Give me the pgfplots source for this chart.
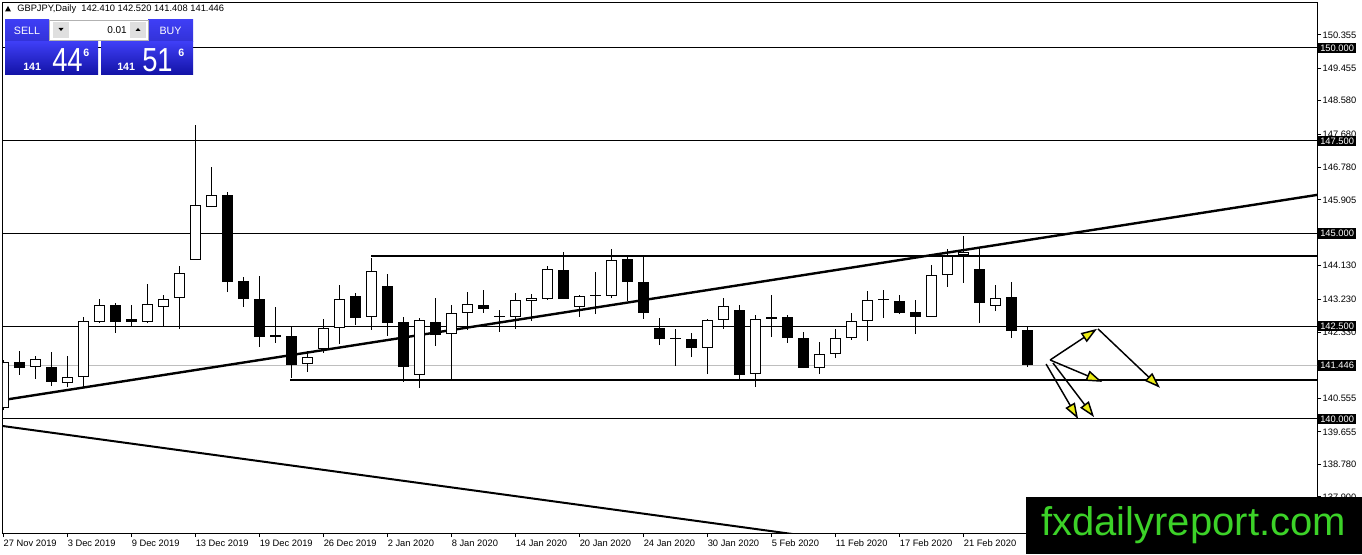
\documentclass[border=0pt]{standalone}
\usepackage{fontspec}
\setmainfont{Liberation Sans}
\usepackage{graphicx}
\usepackage{pgfplots}
\pgfplotsset{compat=1.18}
\usepackage{pgfplotstable}
\usetikzlibrary{arrows.meta}

\definecolor{panelTop}{RGB}{62,62,245}
\definecolor{panelBot}{RGB}{18,18,165}
\definecolor{btnBlue}{RGB}{50,50,215}
\definecolor{arrowyellow}{RGB}{235,235,20}
\definecolor{wmgreen}{RGB}{60,210,40}
\definecolor{pricegray}{RGB}{190,190,190}

\pgfplotstableread{
i o h l c
0 140.30 141.59 140.24 141.54
1 141.54 141.83 141.19 141.37
2 141.40 141.70 141.08 141.62
3 141.40 141.81 140.89 141.00
4 140.97 141.70 140.86 141.13
5 141.13 142.75 140.86 142.64
6 142.61 143.23 142.59 143.07
7 143.07 143.13 142.32 142.61
8 142.70 143.07 142.51 142.61
9 142.61 143.64 142.59 143.10
10 143.02 143.34 142.51 143.23
11 143.26 144.12 142.43 143.94
12 144.29 147.92 144.29 145.77
13 145.71 146.79 145.71 146.04
14 146.04 146.12 143.42 143.69
15 143.72 143.83 143.02 143.23
16 143.23 143.85 141.94 142.21
17 142.26 143.02 142.05 142.21
18 142.24 142.51 141.11 141.46
19 141.48 141.83 141.27 141.67
20 141.89 142.70 141.78 142.45
21 142.45 143.61 142.02 143.23
22 143.32 143.40 142.53 142.72
23 142.75 144.34 142.40 143.99
24 143.59 143.91 142.24 142.59
25 142.61 142.75 141.00 141.40
26 141.19 142.72 140.84 142.67
27 142.61 143.26 141.97 142.26
28 142.29 143.07 141.08 142.86
29 142.86 143.42 142.40 143.10
30 143.07 143.48 142.86 142.97
31 142.78 142.94 142.35 142.75
32 142.75 143.40 142.43 143.21
33 143.18 143.37 142.64 143.26
34 143.23 144.12 143.21 144.04
35 144.02 144.50 143.23 143.23
36 143.02 143.34 142.75 143.32
37 143.34 143.96 142.83 143.32
38 143.32 144.58 143.26 144.29
39 144.31 144.37 143.18 143.69
40 143.69 144.37 142.70 142.86
41 142.45 142.72 141.99 142.16
42 142.17 142.43 141.43 142.16
43 142.16 142.32 141.67 141.91
44 141.91 142.70 141.21 142.67
45 142.67 143.26 142.43 143.05
46 142.94 143.07 141.08 141.19
47 141.21 142.80 140.86 142.70
48 142.70 143.34 142.21 142.75
49 142.75 142.80 142.05 142.18
50 142.18 142.35 141.37 141.37
51 141.37 142.08 141.21 141.75
52 141.75 142.43 141.64 142.18
53 142.18 142.86 142.13 142.64
54 142.64 143.45 142.10 143.21
55 143.21 143.48 142.72 143.21
56 143.18 143.34 142.83 142.86
57 142.88 143.21 142.29 142.75
58 142.75 144.15 142.75 143.88
59 143.88 144.58 143.56 144.39
60 144.42 144.93 143.67 144.50
61 144.04 144.58 142.59 143.13
62 143.05 143.61 142.91 143.26
63 143.29 143.69 142.18 142.37
64 142.41 142.52 141.41 141.45
}\candles

\begin{document}
\begin{tikzpicture}[x=0.75pt,y=0.75pt]
\fill[white] (0,0) rectangle (1362,554);
\path[use as bounding box] (0,0) rectangle (1362,554);
\begin{axis}[
  at={(2.25pt,15.75pt)}, anchor=south west,
  scale only axis, width=985.5pt, height=397.5pt,
  xmin=-0.03, xmax=82.09, ymin=136.927, ymax=151.213,
  axis line style={line width=0.75pt, black},
  clip mode=individual,
  xtick={0,4,...,60},
  xticklabels={27 Nov 2019,3 Dec 2019,9 Dec 2019,13 Dec 2019,19 Dec 2019,26 Dec 2019,2 Jan 2020,8 Jan 2020,14 Jan 2020,20 Jan 2020,24 Jan 2020,30 Jan 2020,5 Feb 2020,11 Feb 2020,17 Feb 2020,21 Feb 2020},
  ytick={150.355,149.455,148.58,147.68,146.78,145.905,144.13,143.23,142.33,140.555,139.655,138.78,137.9},
  ytick pos=right, yticklabel pos=right, xtick pos=bottom,
  tick align=outside, major tick length=3pt,
  tick style={black, line width=0.75pt},
  scaled y ticks=false,
  ticklabel style={font=\fontsize{7}{8}\selectfont, inner sep=0pt},
  x tick label style={anchor=north west, yshift=-2pt},
  y tick label style={anchor=west, xshift=1pt,
    /pgf/number format/fixed, /pgf/number format/fixed zerofill,
    /pgf/number format/precision=3, /pgf/number format/assume math mode=true},
  candle/.style={only marks, mark=*, mark size=0.01pt, mark options={opacity=0, draw opacity=0, fill opacity=0}, forget plot},
]
% horizontal levels
\addplot[pricegray, line width=0.75pt] coordinates {(-1,141.446) (90,141.446)};
\addplot[black, line width=0.75pt] coordinates {(-1,150) (90,150)};
\addplot[black, line width=0.75pt] coordinates {(-1,147.5) (90,147.5)};
\addplot[black, line width=0.75pt] coordinates {(-1,145) (90,145)};
\addplot[black, line width=0.75pt] coordinates {(-1,142.5) (90,142.5)};
\addplot[black, line width=0.75pt] coordinates {(-1,140) (90,140)};
% thick support / resistance
\addplot[black, line width=1.6pt] coordinates {(22.97,144.39) (90,144.39)};
\addplot[black, line width=1.6pt] coordinates {(17.92,141.05) (90,141.05)};
% trend lines
\addplot[black, line width=1.8pt] coordinates {(-0.03,140.51) (82.09,146.04)};
\addplot[black, line width=1.5pt] coordinates {(-0.03,139.81) (49.47,136.89)};
% wicks
\addplot[candle,
  error bars/.cd, y dir=plus, y explicit, error mark=none,
  error bar style={black, opacity=1, line width=0.75pt}]
  table[x=i, y=l, y error plus expr=\thisrow{h}-\thisrow{l}] {\candles};
% body outline / black bodies
\addplot[candle,
  error bars/.cd, y dir=plus, y explicit, error mark=none,
  error bar style={black, opacity=1, line width=8.25pt}]
  table[x=i, y expr={min(\thisrow{o},\thisrow{c})}, y error plus expr={max(abs(\thisrow{c}-\thisrow{o}),0.027)}] {\candles};
% white bodies
\addplot[candle,
  error bars/.cd, y dir=plus, y explicit, error mark=none,
  error bar style={white, opacity=1, line width=6.75pt}]
  table[x=i, y expr={min(\thisrow{o},\thisrow{c})+0.027}, y error plus expr={(\thisrow{c}-\thisrow{o}>0.055)*(\thisrow{c}-\thisrow{o}-0.054)}] {\candles};
% arrows
\begin{scope}[line width=1.1pt, -{Triangle[length=12pt,width=8pt,fill=arrowyellow]}]
\draw (axis cs:65.41,141.59) -- (axis cs:68.34,142.43);
\draw (axis cs:68.40,142.43) -- (axis cs:72.28,140.84);
\draw (axis cs:65.41,141.59) -- (axis cs:68.66,141.00);
\draw (axis cs:65.16,141.48) -- (axis cs:67.16,140.00);
\draw (axis cs:65.59,141.51) -- (axis cs:68.16,140.05);
\end{scope}
\end{axis}

% boxed price labels on the right axis
\tikzset{pbox/.style={fill=black, text=white, anchor=west, inner xsep=1.5pt, inner ysep=1pt, text height=5.4pt, text depth=0.4pt, font=\fontsize{7}{8}\selectfont}}
\node[pbox] at (1318,{554-48}) {150.000};
\node[pbox] at (1318,{554-140.75}) {147.500};
\node[pbox] at (1318,{554-233.5}) {145.000};
\node[pbox] at (1318,{554-326.25}) {142.500};
\node[pbox] at (1318,{554-365.4}) {141.446};
\node[pbox] at (1318,{554-419}) {140.000};

% header
\fill[black] (5,{554-11.5}) -- (11,{554-11.5}) -- (8,{554-6}) -- cycle;
\node[anchor=west, inner sep=0pt, font=\fontsize{7}{8}\selectfont] at (17,{554-9.5}) {GBPJPY,Daily\ \ 142.410 142.520 141.408 141.446};

% trade panel
\shade[top color=panelTop, bottom color=btnBlue] (5,{554-42}) rectangle (49,{554-20});
\shade[top color=panelTop, bottom color=btnBlue] (148,{554-42}) rectangle (193,{554-20});
\fill[white] (49,{554-40}) rectangle (148,{554-20});
\draw[gray!60, line width=0.5pt] (49,{554-40}) rectangle (148,{554-20});
\fill[gray!25] (53,{554-38}) rectangle (69,{554-22});
\fill[gray!25] (130,{554-38}) rectangle (146,{554-22});
\fill[black] (58.5,{554-28}) -- (63.5,{554-28}) -- (61,{554-31}) -- cycle;
\fill[black] (135.5,{554-31}) -- (140.5,{554-31}) -- (138,{554-28}) -- cycle;
\node[anchor=east, inner sep=0pt, font=\fontsize{7.5}{8}\selectfont] at (127,{554-30}) {0.01};
\node[text=white, inner sep=0pt, font=\fontsize{8}{9}\selectfont] at (27,{554-30.5}) {SELL};
\node[text=white, inner sep=0pt, font=\fontsize{8}{9}\selectfont] at (170.5,{554-30.5}) {BUY};
\draw[white!70!blue, line width=0.5pt] (9,{554-41}) -- (45,{554-41});
\draw[white!70!blue, line width=0.5pt] (152,{554-41}) -- (189,{554-41});
\shade[top color=panelTop, bottom color=panelBot] (5,{554-75}) rectangle (98,{554-42});
\shade[top color=panelTop, bottom color=panelBot] (101,{554-75}) rectangle (193,{554-42});
\node[anchor=base west, text=white, inner sep=0pt, font=\bfseries\fontsize{8}{9}\selectfont] at (23,{554-71}) {141};
\node[anchor=base west, text=white, inner sep=0pt, font=\fontsize{25}{26}\selectfont] at (52,{554-72}) {\scalebox{0.82}[1]{44}};
\node[anchor=base west, text=white, inner sep=0pt, font=\bfseries\fontsize{8}{9}\selectfont] at (83,{554-57}) {6};
\node[anchor=base west, text=white, inner sep=0pt, font=\bfseries\fontsize{8}{9}\selectfont] at (117,{554-71}) {141};
\node[anchor=base west, text=white, inner sep=0pt, font=\fontsize{25}{26}\selectfont] at (142,{554-72}) {\scalebox{0.82}[1]{51}};
\node[anchor=base west, text=white, inner sep=0pt, font=\bfseries\fontsize{8}{9}\selectfont] at (178,{554-57}) {6};

% watermark
\fill[black] (1026,0) rectangle (1362,{554-497});
\node[anchor=base west, text=wmgreen, inner sep=0pt, font=\fontsize{30}{32}\selectfont] at (1041,{554-535}) {fxdailyreport.com};
\end{tikzpicture}
\end{document}
